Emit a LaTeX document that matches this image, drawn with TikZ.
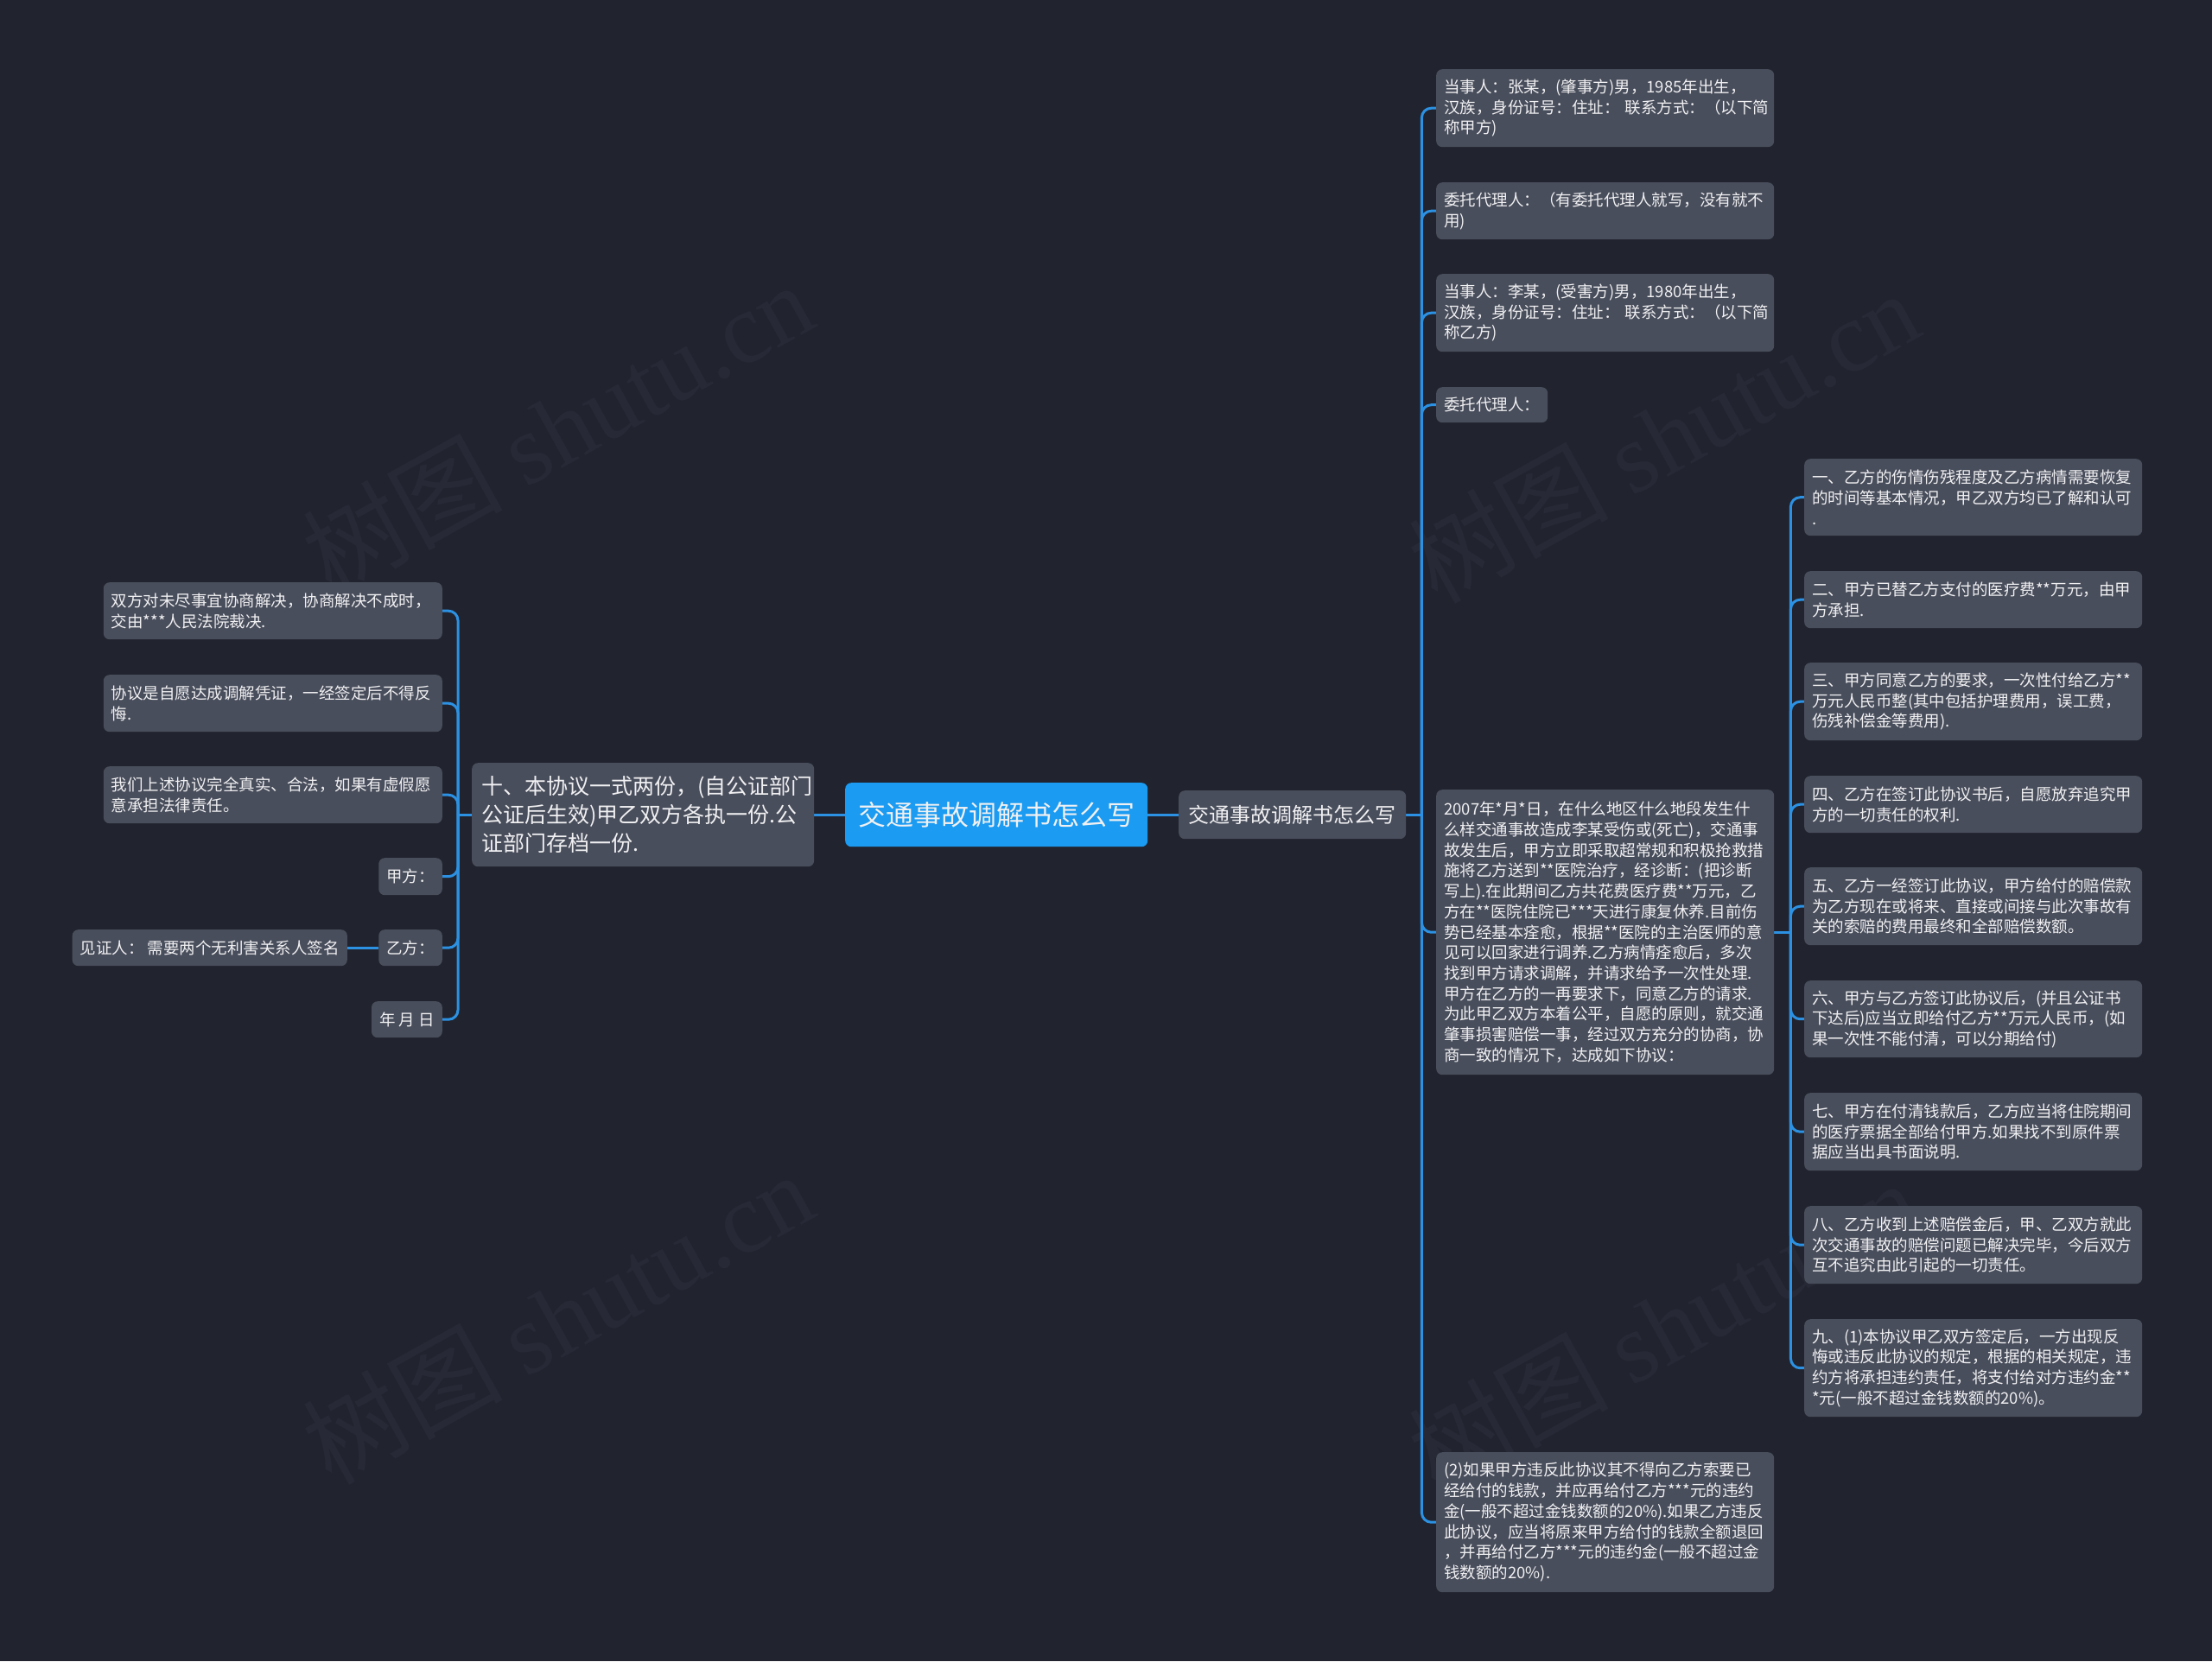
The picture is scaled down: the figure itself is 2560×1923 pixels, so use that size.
\documentclass[tikz,border=0pt]{standalone}
\usepackage{fontspec}
\setmainfont{Noto Sans CJK SC}
\newfontfamily\wmserif{Liberation Serif}
\usetikzlibrary{positioning,calc}
\definecolor{bgc}{RGB}{33,36,47}
\definecolor{boxc}{RGB}{73,78,92}
\definecolor{txt}{RGB}{240,240,242}
\definecolor{linec}{RGB}{44,145,226}
\definecolor{mainc}{RGB}{27,155,241}
\definecolor{wmc}{RGB}{39,42,54}
\pgfdeclarelayer{back}
\pgfdeclarelayer{lines}
\pgfsetlayers{back,lines,main}
\tikzset{
  box/.style={fill=boxc, rounded corners=7pt, text=txt, align=left, inner xsep=9pt, inner ysep=0pt},
  leaf/.style={box, font=\fontsize{18.5}{23.7}\selectfont},
  rleaf/.style={leaf, anchor=north west, text width=373pt},
  lleaf/.style={leaf, anchor=north east, text width=374pt},
  small/.style={leaf, minimum height=42pt},
  conn/.style={draw=linec, line width=3pt, rounded corners=11pt},
  wm/.style={text=wmc, rotate=29, font=\fontsize{116}{116}\selectfont},
}
\begin{document}
\begin{tikzpicture}[x=1pt,y=-1pt]
\begin{pgfonlayer}{back}
\fill[bgc] (0,0) rectangle (2560,1923);
\useasboundingbox (0,0) rectangle (2560,1923);
\node[wm] (wm1) at (645,495) {树图 {\wmserif shutu.cn}};
\node[wm] (wm2) at (645,1525) {树图 {\wmserif shutu.cn}};
\node[wm] (wm3) at (1925,505) {树图 {\wmserif shutu.cn}};
\node[wm] (wm4) at (1925,1535) {树图 {\wmserif shutu.cn}};
\end{pgfonlayer}

% centre
\node[box, fill=mainc, anchor=north west, text width=320pt, inner xsep=15pt, minimum height=74pt,
      font=\fontsize{32}{38}\selectfont] (c) at (978,906) {交通事故调解书怎么写};
% right level 1
\node[box, anchor=north west, inner xsep=11.5pt, minimum height=56pt,
      font=\fontsize{24}{29}\selectfont] (rn) at (1364,915) {交通事故调解书怎么写};
% left level 1
\node[box, anchor=north west, text width=374pt, inner xsep=11pt, minimum height=120pt,
      font=\fontsize{25}{33}\selectfont] (ln) at (546,883)
  {十、本协议一式两份，(自公证部门\\公证后生效)甲乙双方各执一份.公\\证部门存档一份.};

% right level 2
\node[rleaf, minimum height=90pt] (r1) at (1662,80)
  {当事人：张某，(肇事方)男，1985年出生，\\汉族，身份证号：住址：~联系方式：（以下简\\称甲方)};
\node[rleaf, minimum height=66pt] (r2) at (1662,211)
  {委托代理人：（有委托代理人就写，没有就不\\用)};
\node[rleaf, minimum height=90pt] (r3) at (1662,317)
  {当事人：李某，(受害方)男，1980年出生，\\汉族，身份证号：住址：~联系方式：（以下简\\称乙方)};
\node[leaf, anchor=north west, minimum height=41pt] (r4) at (1662,448) {委托代理人：};
\node[rleaf, minimum height=330pt] (r5) at (1662,914)
  {2007年*月*日，在什么地区什么地段发生什\\么样交通事故造成李某受伤或(死亡)，交通事\\故发生后，甲方立即采取超常规和积极抢救措\\施将乙方送到**医院治疗，经诊断：(把诊断\\写上).在此期间乙方共花费医疗费**万元，乙\\方在**医院住院已***天进行康复休养.目前伤\\势已经基本痊愈，根据**医院的主治医师的意\\见可以回家进行调养.乙方病情痊愈后，多次\\找到甲方请求调解，并请求给予一次性处理.\\甲方在乙方的一再要求下，同意乙方的请求.\\为此甲乙双方本着公平，自愿的原则，就交通\\肇事损害赔偿一事，经过双方充分的协商，协\\商一致的情况下，达成如下协议：};
\node[rleaf, minimum height=162pt] (r6) at (1662,1681)
  {(2)如果甲方违反此协议其不得向乙方索要已\\经给付的钱款，并应再给付乙方***元的违约\\金(一般不超过金钱数额的20\%).如果乙方违反\\此协议，应当将原来甲方给付的钱款全额退回\\，并再给付乙方***元的违约金(一般不超过金\\钱数额的20\%).};

% right level 3
\node[rleaf, minimum height=89pt] (s1) at (2088,531)
  {一、乙方的伤情伤残程度及乙方病情需要恢复\\的时间等基本情况，甲乙双方均已了解和认可\\.};
\node[rleaf, minimum height=66pt] (s2) at (2088,661)
  {二、甲方已替乙方支付的医疗费**万元，由甲\\方承担.};
\node[rleaf, minimum height=90pt] (s3) at (2088,767)
  {三、甲方同意乙方的要求，一次性付给乙方**\\万元人民币整(其中包括护理费用，误工费，\\伤残补偿金等费用).};
\node[rleaf, minimum height=66pt] (s4) at (2088,898)
  {四、乙方在签订此协议书后，自愿放弃追究甲\\方的一切责任的权利.};
\node[rleaf, minimum height=90pt] (s5) at (2088,1004)
  {五、乙方一经签订此协议，甲方给付的赔偿款\\为乙方现在或将来、直接或间接与此次事故有\\关的索赔的费用最终和全部赔偿数额。};
\node[rleaf, minimum height=89pt] (s6) at (2088,1135)
  {六、甲方与乙方签订此协议后，(并且公证书\\下达后)应当立即给付乙方**万元人民币，(如\\果一次性不能付清，可以分期给付)};
\node[rleaf, minimum height=90pt] (s7) at (2088,1265)
  {七、甲方在付清钱款后，乙方应当将住院期间\\的医疗票据全部给付甲方.如果找不到原件票\\据应当出具书面说明.};
\node[rleaf, minimum height=90pt] (s8) at (2088,1396)
  {八、乙方收到上述赔偿金后，甲、乙双方就此\\次交通事故的赔偿问题已解决完毕，今后双方\\互不追究由此引起的一切责任。};
\node[rleaf, minimum height=113pt] (s9) at (2088,1527)
  {九、(1)本协议甲乙双方签定后，一方出现反\\悔或违反此协议的规定，根据的相关规定，违\\约方将承担违约责任，将支付给对方违约金**\\{}*元(一般不超过金钱数额的20\%)。};

% left level 2
\node[lleaf, minimum height=66pt] (l1) at (512,674)
  {双方对未尽事宜协商解决，协商解决不成时，\\交由***人民法院裁决.};
\node[lleaf, minimum height=66pt] (l2) at (512,781)
  {协议是自愿达成调解凭证，一经签定后不得反\\悔.};
\node[lleaf, minimum height=66pt] (l3) at (512,887)
  {我们上述协议完全真实、合法，如果有虚假愿\\意承担法律责任。};
\node[small, anchor=north east, minimum height=43pt] (l4) at (512,993) {甲方：};
\node[small, anchor=north east] (l5) at (512,1076) {乙方：};
\node[small, anchor=north east] (l6) at (512,1159) {年~月~日};
\node[small, anchor=north east] (w) at (402,1076) {见证人：~需要两个无利害关系人签名};

\coordinate (bR) at ($(rn.east)+(18,0)$);
\coordinate (bS) at ($(r5.east)+(19,0)$);
\coordinate (bL) at ($(ln.west)+(-16,0)$);

\begin{pgfonlayer}{lines}
\draw[conn] (c.east) -- (rn.west);
\draw[conn] (c.west) -- (ln.east);
\draw[conn] (rn.east) -- (bR);
\foreach \n in {r1,r2,r3,r4,r5,r6} \draw[conn] (bR) |- (\n.west);
\draw[conn] (r5.east) -- (bS);
\foreach \n in {s1,s2,s3,s4,s5,s6,s7,s8,s9} \draw[conn] (bS) |- (\n.west);
\draw[conn] (ln.west) -- (bL);
\foreach \n in {l1,l2,l3,l4,l5,l6} \draw[conn] (bL) |- (\n.east);
\draw[conn] (l5.west) -- (w.east);
\end{pgfonlayer}
\end{tikzpicture}
\end{document}
